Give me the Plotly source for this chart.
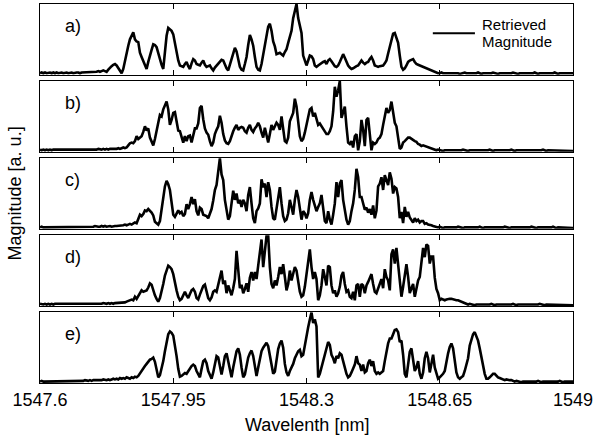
import numpy as np
import plotly.graph_objects as go
from plotly.subplots import make_subplots

# Wavelength sampling grid [nm] (321 samples across the axis span)
wavelength = np.linspace(1547.6, 1549.0, 321)

tick_vals = [1547.6, 1547.95, 1548.3, 1548.65, 1549.0]
tick_text = ["1547.6", "1547.95", "1548.3", "1548.65", "1549"]

panel_labels = ["a)", "b)", "c)", "d)", "e)"]

mag_a = [
    .02, .03, .02, .03, .02, .03,
    .03, .02, .03, .02, .03, .02, .03, .03, .02, .03,
    .03, .02, .03, .03, .02, .03, .03, .03, .02, .03,
    .03, .03,
    .04, .03, .04, .03, .04, .04, .04, .05, .04, .05,
    .06, .05, .04, .07, .10, .12, .14, .15,
    .13, .09, .05, .02, .08, .20, .30, .41, .50, .56,
    .60, .50, .47, .46, .31, .25, .20, .14, .08, .18,
    .25, .35, .43, .42, .39, .31, .20, .14, .08, .36,
    .55, .66, .64, .62, .57, .45, .29, .20, .13, .12,
    .11, .15, .18, .12, .08, .16, .22, .20, .15, .14,
    .13, .17, .20, .14, .11, .12, .13, .09, .06, .10,
    .13, .16, .18, .21, .20, .13, .09, .06, .14, .22,
    .31, .38, .33, .22, .11, .07, .06, .15, .25, .42,
    .56, .50, .41, .25, .11, .07, .06, .15, .27, .42,
    .55, .68, .72, .62, .47, .40, .29, .30, .31, .29,
    .27, .32, .36, .45, .52, .62, .80, .90, 1.0, .80,
    .69, .59, .27, .18, .13, .20, .27, .26, .22, .13,
    .11,
    .13, .15, .17, .18, .19, .15, .20, .22, .19, .15,
    .12, .11, .13, .18, .24, .29, .24, .18, .13, .10,
    .08, .09, .11, .12, .13, .17, .20, .17, .15, .17,
    .18, .22, .25, .20, .13, .12, .11, .12, .12, .13,
    .16, .20, .30, .41, .52, .58, .59, .53, .45, .27,
    .11, .07, .09, .13, .18, .20, .21, .22, .18, .15,
    .14, .13, .12, .11, .09, .08, .07, .06, .05, .04, .03,
    .03, .02, .02, .03, .02, .02, .03, .02, .02, .02,
    .02, .03, .02, .02, .01, .02, .02, .03, .02, .02,
    .02, .01, .02, .02, .02, .03, .02, .01, .02, .02,
    .02, .02, .01, .02, .03, .02, .02, .01, .02, .02,
    .01, .02, .02, .02, .01, .02, .03, .02, .02, .01,
    .02, .02, .01, .02, .02, .02, .01, .02, .02, .03,
    .02, .01, .02, .02, .01, .02, .02, .02, .01, .02,
    .02, .03, .02, .01, .02, .02, .02, .01, .02, .02,
    .01, .02, .02,
]

mag_b = [
    .03, .02, .03, .02, .03, .02,
    .03, .02, .03, .03, .02, .03, .02, .03, .03, .02,
    .03, .03, .02, .03, .03, .02, .03, .03, .03, .02,
    .03, .03, .02, .03, .03, .03, .02, .03, .03, .04,
    .03, .03, .04, .03, .04, .03, .04, .04, .03, .04,
    .04, .05, .04, .05,
    .06, .05, .06, .09, .12, .13, .12, .15, .22, .18,
    .20, .22, .28, .36, .30, .33,
    .20, .13, .09, .18, .32, .41, .52, .50, .60, .66,
    .71, .60, .38, .45, .55, .56, .40, .30, .29, .20,
    .13, .22, .15, .22, .23, .13, .25, .33, .33, .40,
    .62, .65, .46, .33, .27, .24, .15, .08, .13, .25,
    .31, .36, .51, .41, .25, .16, .12, .11, .15, .23,
    .29, .34, .38, .31, .34, .35, .34, .29, .27, .34,
    .38, .31, .28, .33, .36, .41, .36, .27, .20, .34,
    .22, .13, .25, .38, .31, .36, .41, .38, .31, .50,
    .31, .15, .13, .20, .43, .50, .55, .75, .64, .43,
    .22, .15, .18, .27, .38, .45, .60, .62, .50, .55,
    .45,
    .38, .40, .36, .31, .27, .25, .25, .29, .36, .57,
    .92, .78, .87, 1.0, .48, .55, .64, .36, .13, .11,
    .15, .06, .22, .25, .02, .15, .45, .31, .08, .45,
    .48, .25, .02, .13, .11, .13, .18, .20, .25, .38,
    .52, .62, .55, .59, .71, .57, .41, .36, .20, .04,
    .06, .13, .15, .18, .20, .20, .18, .17, .15, .14,
    .11, .10, .08, .09, .08, .07, .06, .05, .04, .03,
    .02, .02, .03, .02, .02, .01, .02, .02, .01, .02,
    .02, .01, .02, .02, .02, .01, .02, .03, .02, .02,
    .01, .02, .02, .01, .02, .02, .02, .01, .02, .02,
    .02, .01, .02, .03, .02, .01, .02, .02, .02, .01,
    .02, .02, .01, .02, .02, .02, .03, .02, .01, .02,
    .02, .01, .02, .02, .01, .02, .02, .02, .01, .02,
    .02, .02, .01, .02, .02, .03, .02, .01, .02, .02,
    .01, .02, .02, .02, .01, .02, .02, .01, .02, .02,
    .01, .02, .02, .01,
]

mag_c = [
    .02, .03, .02, .02, .03, .02,
    .03, .02, .03, .02, .03, .03, .02, .03, .02, .03,
    .03, .02, .03, .03, .02, .03, .02, .03, .03, .03,
    .02, .03, .03, .03, .02, .03, .03, .04, .03, .03,
    .03, .04, .03, .04, .03, .04, .04, .03, .04, .04,
    .04, .04, .05, .04, .05, .06, .05, .06, .07, .06,
    .07, .09, .08, .15, .20, .18, .21, .26, .25, .28,
    .26, .23, .19, .10, .08, .06, .11, .28, .41, .60,
    .68, .63, .55, .35, .20, .17, .22, .26, .22, .24,
    .18, .21, .35, .28, .35, .45, .35, .42, .25, .19,
    .30, .28, .20, .19, .18, .15, .22, .28, .40, .55,
    .62, .82, 1.0, .77, .69, .41, .25, .13, .18, .36,
    .54, .41, .50, .36, .41, .31, .41, .36, .25, .48,
    .59, .36, .15, .08, .25, .29, .36, .70, .59, .64,
    .45, .66, .55, .31, .15, .13, .31, .45, .59, .36,
    .18, .11, .13, .22, .41, .31, .20, .41, .55, .45,
    .27, .13, .25, .22, .15, .22, .41, .52, .41, .31,
    .25,
    .31, .36, .48, .31, .11, .08, .25, .13, .06, .20,
    .36, .66, .45, .64, .69, .41, .25, .13, .06, .11,
    .25, .36, .55, .85, .73, .45, .45, .36, .27, .30,
    .23, .28, .20, .33, .15, .26, .60, .64, .73, .55,
    .76, .69, .62, .80, .71, .50, .59, .57, .45, .15,
    .24, .08, .31, .17, .24, .16, .13, .09, .15, .11,
    .13, .09, .11, .11, .07, .08, .06, .06, .05, .04,
    .03, .02, .02, .03, .02, .01, .02, .02, .02, .01,
    .02, .02, .01, .02, .03, .02, .02, .01, .02, .02,
    .02, .01, .02, .02, .01, .02, .02, .03, .02, .01,
    .02, .02, .02, .01, .02, .02, .01, .02, .02, .02,
    .01, .02, .03, .02, .02, .01, .02, .02, .01, .02,
    .02, .02, .01, .02, .02, .02, .01, .02, .03, .02,
    .02, .01, .02, .02, .01, .02, .02, .02, .01, .02,
    .02, .03, .02, .01, .02, .02, .01, .02, .02, .02,
    .01, .02, .02, .01,
]

mag_d = [
    .03, .02, .02, .03, .02, .03,
    .02, .03, .02, .03, .03, .02, .03, .02, .03, .03,
    .02, .03, .03, .02, .03, .02, .03, .03, .02, .03,
    .03, .02, .03, .03, .03, .02, .03, .03, .03, .02,
    .03, .03, .04, .03, .03, .04, .03, .04, .03, .04,
    .04, .04, .05, .04, .05, .05,
    .06, .07, .08, .09, .08, .13, .10, .14, .18, .22,
    .20, .21, .22, .26,
    .32, .30, .22, .15, .10, .06, .11, .20, .31, .43,
    .52, .57, .55, .52, .45, .32, .22, .13, .08, .10,
    .15, .20, .15, .11, .17, .22, .24, .20, .11, .09,
    .16, .22, .28, .30, .20, .11, .08, .12, .20, .22,
    .20, .30, .38, .50, .31, .36, .18, .29, .22, .15,
    .25, .38, .78, .55, .25, .30, .18, .24, .32, .20,
    .40, .48, .36, .48, .38, .57, .78, .94, .55, .78,
    .99, 1.0, .55, .31, .25, .36, .29, .41, .55, .45,
    .59, .41, .22, .31, .50, .36, .45, .55, .50, .36,
    .20, .13, .15, .27, .45, .62, .80, .55, .38, .48,
    .38,
    .08, .15, .29, .52, .41, .29, .57, .55, .29, .18,
    .22, .13, .18, .27, .43, .48, .31, .20, .22, .13,
    .11, .20, .08, .29, .31, .13, .31, .29, .18, .29,
    .34, .41, .45, .31, .20, .18, .25, .34, .38, .25,
    .52, .41, .36, .22, .73, .80, .60, .82, .59, .38,
    .13, .27, .45, .59, .41, .18, .25, .31, .13, .27,
    .36, .41, .64, .82, .69, .87, .85, .60, .70, .70,
    .40, .24, .18, .08, .10, .09, .08, .09, .10, .10,
    .10, .09, .08, .08, .08, .07, .06, .05, .04, .03,
    .02, .03, .02, .02, .01, .02, .02, .02, .01, .02,
    .02, .01, .02, .02, .03, .02, .01, .02, .02, .02,
    .01, .02, .02, .01, .02, .02, .02, .03, .02, .01,
    .02, .02, .01, .02, .02, .02, .01, .02, .02, .02,
    .02, .01, .02, .03, .02, .02, .01, .02, .02, .01,
    .02, .02, .02, .01, .02, .02, .01, .02, .02, .02,
    .01, .02, .02, .01,
]

mag_e = [
    .02, .03, .02, .02, .03, .02,
    .03, .02, .03, .03, .02, .03, .02, .03, .03, .02,
    .03, .03, .02, .03, .03, .03, .02, .03, .03, .03,
    .03, .04, .03, .03, .04, .03, .04, .04, .03, .04,
    .04, .04, .05, .04,
    .04, .05, .04, .05, .06, .05, .06, .05, .07, .06,
    .07, .06, .08, .07, .06, .08, .07, .09, .08, .10,
    .14, .17, .22, .24, .27, .31, .33, .34, .36, .30,
    .20, .08, .11, .20, .31, .45, .57, .69, .73, .71,
    .67, .54, .38, .20, .09, .10, .12, .14, .13, .17,
    .20, .24, .26, .24, .17, .12, .08, .20, .31, .33,
    .28, .17, .10, .06, .15, .29, .38, .36, .24, .12,
    .24, .38, .42, .31, .15, .08, .22, .35, .45, .49,
    .40, .22, .08, .12, .27, .36, .42, .46, .38, .22,
    .10, .22, .36, .45, .50, .54, .57, .52, .38, .25,
    .13, .16, .35, .48, .56, .60, .50, .27, .15, .10,
    .17, .22, .27, .35, .40, .45, .47, .38, .40, .55,
    .67, .79, .90, 1.0, .85, .90, .80,
    .08, .13, .22, .35, .42, .51, .58, .54, .40, .35,
    .28, .38, .35, .42, .40, .31, .20, .13, .08, .10,
    .15, .22, .26, .38, .28, .26, .17, .26, .15, .17,
    .28, .33, .24, .31, .17, .13, .15, .13, .15, .17,
    .31, .45, .56, .63, .63, .69, .75, .76, .72, .58,
    .60, .40, .13, .08, .28, .44, .49, .31, .17, .22,
    .31, .13, .06, .15, .35, .44, .35, .15, .28, .40,
    .22, .13, .06, .08, .10, .13, .17, .31, .42, .51,
    .56, .49, .35, .15, .08, .06, .08, .10, .17, .26,
    .35, .53, .60, .69, .72, .67, .60, .49, .35, .22,
    .13, .06, .06, .08, .10, .13, .13, .10, .08, .07,
    .06, .05, .04, .05, .04, .04, .04, .03,
    .02, .03, .02, .02, .01, .02, .02, .02, .01, .02,
    .02, .01, .02, .02, .03, .02, .01, .02, .02, .02,
    .01, .02, .02, .01, .02, .02, .02, .03, .02, .01,
    .02, .02, .01, .02, .02, .02,
]

series = [mag_a, mag_b, mag_c, mag_d, mag_e]
for s in series:
    assert len(s) == len(wavelength), len(s)

FONT = "Liberation Sans, Arial, sans-serif"

fig = make_subplots(rows=5, cols=1, shared_xaxes=True, vertical_spacing=0.017)

for r, (lab, mag) in enumerate(zip(panel_labels, series), start=1):
    fig.add_trace(
        go.Scatter(x=wavelength, y=mag, mode="lines",
                   line=dict(color="black", width=2.6),
                   showlegend=False, hoverinfo="skip"),
        row=r, col=1)
    fig.update_yaxes(range=[0, 1.0], showline=True, mirror=True,
                     linecolor="black", linewidth=1, showticklabels=False,
                     ticks="", showgrid=False, zeroline=False, row=r, col=1)
    fig.update_xaxes(range=[1547.6, 1549.0], tickvals=tick_vals,
                     ticktext=tick_text, ticks="inside", ticklen=5,
                     tickcolor="black", tickwidth=1, showline=True,
                     mirror="ticks", linecolor="black", linewidth=1,
                     showgrid=False, zeroline=False, row=r, col=1)
    yref = "y domain" if r == 1 else f"y{r} domain"
    fig.add_annotation(text=lab, xref="paper", yref=yref, x=0.043, y=0.69,
                       xanchor="left", yanchor="middle", showarrow=False,
                       font=dict(size=18, color="black", family=FONT))

# legend sample
fig.add_shape(type="line", xref="paper", yref="paper", x0=0.737, x1=0.816,
              y0=0.923, y1=0.923, line=dict(color="black", width=2))
fig.add_annotation(text="Retrieved", xref="paper", yref="paper", x=0.827,
                   y=0.947, xanchor="left", yanchor="middle", showarrow=False,
                   borderpad=0, font=dict(size=15, color="black", family=FONT))
fig.add_annotation(text="Magnitude", xref="paper", yref="paper", x=0.827,
                   y=0.900, xanchor="left", yanchor="middle", showarrow=False,
                   borderpad=0, font=dict(size=15, color="black", family=FONT))

# axis titles
fig.add_annotation(text="Wavelenth [nm]", xref="paper", yref="paper", x=0.5,
                   y=-0.11, xanchor="center", yanchor="middle",
                   showarrow=False, font=dict(size=18, color="black", family=FONT))
fig.add_annotation(text="Magnitude [a. u.]", xref="paper", yref="paper",
                   x=-0.047, y=0.5, xanchor="center", yanchor="middle",
                   textangle=-90, showarrow=False,
                   font=dict(size=18, color="black", family=FONT))

fig.update_layout(
    width=597, height=439,
    margin=dict(l=40, r=24, t=4, b=56),
    paper_bgcolor="white", plot_bgcolor="white",
    font=dict(family=FONT, size=18, color="black"),
)
fig.update_xaxes(tickfont=dict(size=18, color="black", family=FONT))

fig.write_html("out.html")
